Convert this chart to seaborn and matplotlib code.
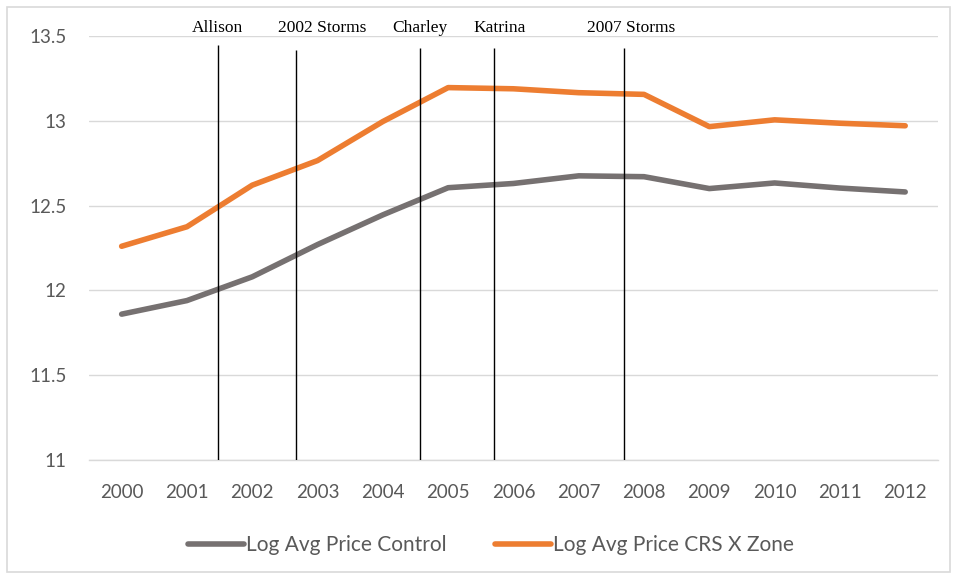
import matplotlib
matplotlib.use("Agg")
import matplotlib.pyplot as plt
import seaborn as sns
import pandas as pd

years = list(range(2000, 2013))
control = [11.86, 11.94, 12.08, 12.27, 12.445, 12.605, 12.63, 12.675, 12.67, 12.60, 12.633, 12.603, 12.58]
crs_x_zone = [12.26, 12.375, 12.62, 12.765, 12.995, 13.195, 13.188, 13.165, 13.155, 12.965, 13.005, 12.985, 12.97]
series_names = ["Log Avg Price Control", "Log Avg Price CRS X Zone"]
series_colors = ["#767171", "#ED7D31"]

# storm events: label, line position (fractional year), label x, line top
events = ["Allison", "2002 Storms", "Charley", "Katrina", "2007 Storms"]
event_x = [2001.47, 2002.67, 2004.57, 2005.70, 2007.69]
event_label_x = [2001.46, 2003.07, 2004.57, 2005.79, 2007.81]
event_top = [13.447, 13.417, 13.43, 13.43, 13.43]

df = pd.DataFrame({
    "year": years * 2,
    "value": control + crs_x_zone,
    "series": [series_names[0]] * len(years) + [series_names[1]] * len(years),
})

sns.set_style("white")
plt.rcParams["font.family"] = ["Lato", "DejaVu Sans"]

fig = plt.figure(figsize=(9.57, 5.78), dpi=100)
ax = fig.add_axes([0.093, 0.204, 0.887, 0.734])

sns.lineplot(data=df, x="year", y="value", hue="series", palette=series_colors,
             linewidth=4, ax=ax, legend=True)

ax.set_xlim(1999.5, 2012.5)
ax.set_ylim(11, 13.5)
ax.set_xticks(years)
ax.set_xticks([1999.5, 2012.5], minor=True)
ax.set_yticks([11, 11.5, 12, 12.5, 13, 13.5])
ax.set_yticklabels(["11", "11.5", "12", "12.5", "13", "13.5"])
ax.yaxis.grid(True, color="#d9d9d9", linewidth=1)
ax.set_axisbelow(True)
for side in ["top", "right", "left"]:
    ax.spines[side].set_visible(False)
ax.spines["bottom"].set_color("#d9d9d9")
ax.spines["bottom"].set_linewidth(1)
ax.tick_params(axis="x", which="both", direction="out", length=4, width=1,
               color="#d9d9d9", pad=13, labelsize=13.5, labelcolor="#595959")
ax.tick_params(axis="y", length=0, pad=16, labelsize=13.5, labelcolor="#595959")
ax.set_xlabel("")
ax.set_ylabel("")

for name, x, lx, top in zip(events, event_x, event_label_x, event_top):
    ax.vlines(x, 11, top, color="black", linewidth=1.0, zorder=5)
    ax.text(lx, 13.545, name, ha="center", va="center", fontsize=12.5,
            family=["Liberation Serif", "DejaVu Serif"], color="black", clip_on=False)

handles, labels = ax.get_legend_handles_labels()
ax.legend(handles, labels, loc="center", bbox_to_anchor=(0.513, 0.057),
          bbox_transform=fig.transFigure, ncol=2, frameon=False,
          fontsize=15, handlelength=2.7, handletextpad=0.1, columnspacing=2.3,
          labelcolor="#595959")

fig.patches.append(plt.Rectangle((0.007, 0.01), 0.986, 0.978, transform=fig.transFigure,
                                 fill=False, edgecolor="#d9d9d9", linewidth=1.2))

fig.savefig("out.png", dpi=100)
